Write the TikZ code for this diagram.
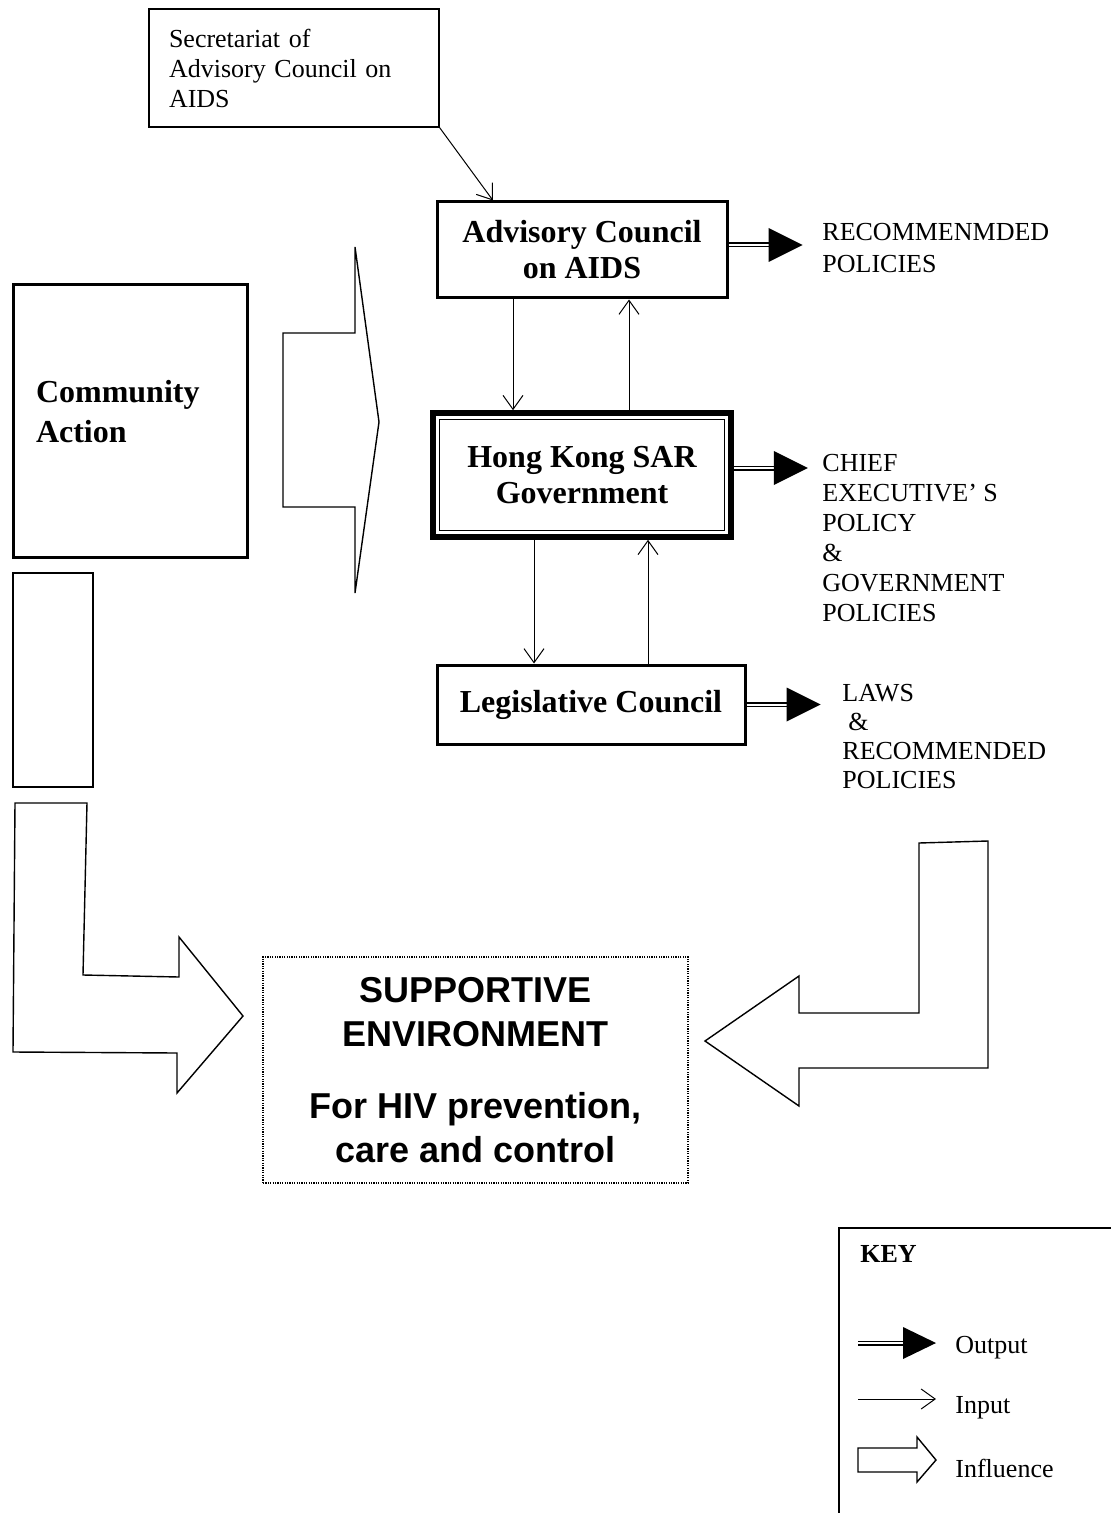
\documentclass[tikz,border=0pt]{standalone}
\usepackage{fontspec}
\setmainfont{Liberation Serif}
\newfontfamily\arialfont{Liberation Sans}
\usetikzlibrary{arrows.meta}
\newdimen\px \px=0.5pt

\begin{document}
\begin{tikzpicture}[x=1\px,y=-1\px,
  box/.style={draw,rectangle,inner sep=0pt},
  boldbox/.style={box,line width=1.5pt,font=\fontsize{16}{18}\selectfont\bfseries,align=center},
  plain/.style={font=\fontsize{13}{15}\selectfont,align=left,inner sep=0pt},
  input/.style={line width=0.5pt,-{Straight Barb[length=7pt,width=10pt]}},
  outshaft/.style={line width=0.75pt,double,double distance=1pt},
  influence/.style={draw,line width=0.7pt,line join=miter}]
\useasboundingbox (0,0) rectangle (1110,1513);

% boxes
\node[box,line width=0.6pt,minimum width=290\px,minimum height=118\px,text width=250\px,align=left,font=\fontsize{13}{15}\selectfont] (sec) at (294,68) {Secretariat of\\Advisory Council on\\AIDS};
\node[boldbox,minimum width=290\px,minimum height=96\px] (adv) at (582,250) {Advisory Council\\on AIDS};
\node[boldbox,line width=2.8pt,minimum width=298\px,minimum height=124\px] (hk) at (582,475) {Hong Kong SAR\\Government};
\draw[line width=0.5pt] ([shift={(9\px,-9\px)}]hk.north west) rectangle ([shift={(-9\px,9\px)}]hk.south east);
\node[boldbox,minimum width=308\px,minimum height=79\px] (leg) at (591,704.5) {Legislative Council};
\node[boldbox,font=\fontsize{16}{20}\selectfont\bfseries,minimum width=234\px,minimum height=272\px,text width=188\px,text depth=30pt,align=left] (comm) at (130,421) {Community\\Action};
\node[box,line width=0.6pt,minimum width=80\px,minimum height=214\px] (commbar) at (53,680) {};
\node[box,line width=0.6pt,dash pattern=on 0.6pt off 0.6pt,minimum width=425\px,minimum height=226\px,align=center,font=\arialfont\bfseries\fontsize{18}{22}\selectfont] (env) at (475.5,1070) {SUPPORTIVE\\ENVIRONMENT\\[14pt]For HIV prevention,\\care and control};

% output labels
\node[plain,font=\fontsize{13}{16}\selectfont,anchor=west] (advpol) at (822,248) {RECOMMENMDED\\POLICIES};
\node[plain,anchor=west] (hkpol) at (822,538) {CHIEF\\EXECUTIVE' S\\POLICY\\\&\\GOVERNMENT\\POLICIES};
\node[plain,font=\fontsize{13}{14.5}\selectfont,anchor=west] (legpol) at (842,737) {LAWS\\\hspace*{3pt}\&\\RECOMMENDED\\POLICIES};

% inputs
\draw[input] (sec.south east) -- ([xshift=-89\px]adv.north);
\draw[input] ([xshift=-69\px]adv.south) -- ([xshift=-69\px]hk.north);
\draw[input] ([xshift=47\px]hk.north) -- ([xshift=47\px]adv.south);
\draw[input] ([xshift=-48\px]hk.south) -- ([xshift=-57\px]leg.north);
\draw[input] ([xshift=57\px]leg.north) -- ([xshift=66\px]hk.south);

% outputs
\foreach \src/\dy in {adv/5,hk/7,leg/0}{
  \draw[outshaft] ([yshift=\dy\px]\src.east) -- ++(40,0) coordinate (\src out);
  \fill (\src out) -- ++(0,-17) -- ++(34,17) -- ++(-34,17) -- cycle;
}

% influence
\draw[influence] (283,333) -- (355,333) -- (355,247) -- (379,422) -- (355,593) -- (355,507) -- (283,507) -- cycle;
\draw[influence] (15,803) -- (87,803) -- (83,975) -- (179,977) -- (179,937) -- (243,1016) -- (177,1093) -- (177,1053) -- (13,1052) -- cycle;
\draw[influence] (919,843) -- (988,841) -- (988,1068) -- (799,1068) -- (799,1106) -- (705,1041) -- (799,976) -- (799,1013) -- (919,1013) -- cycle;

% key
\draw[line width=0.6pt] (839,1228) rectangle (1130,1530);
\node[font=\fontsize{13}{15}\selectfont\bfseries,anchor=base west,inner sep=0pt] (key) at (860,1262) {KEY};
\node[plain,anchor=base west] (keyout) at (955,1353) {Output};
\node[plain,anchor=base west] (keyin) at (955,1413) {Input};
\node[plain,anchor=base west] (keyinf) at (955,1477) {Influence};
\draw[outshaft] (858,1343) -- (903,1343) coordinate (keyhead);
\fill (keyhead) -- ++(0,-16) -- ++(33,16) -- ++(-33,16) -- cycle;
\draw[input] (858,1399) -- (936,1399);
\draw[influence] (858,1448) -- (917,1448) -- (917,1437) -- (936,1460) -- (917,1482) -- (917,1472) -- (858,1472) -- cycle;
\end{tikzpicture}
\end{document}
